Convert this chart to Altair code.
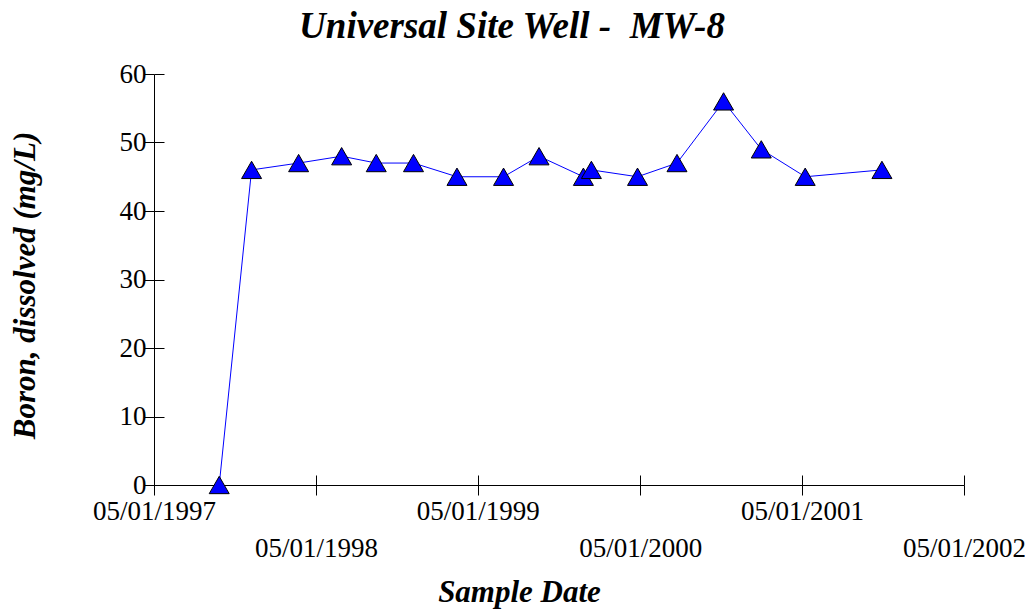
import altair as alt
import pandas as pd

dates = [
    "1997/09/25", "1997/12/07", "1998/03/23", "1998/06/28", "1998/09/14",
    "1998/12/07", "1999/03/15", "1999/06/28", "1999/09/16", "1999/12/25",
    "2000/01/12", "2000/04/25", "2000/07/23", "2000/11/05", "2001/01/29",
    "2001/05/08", "2001/10/28",
]
values = [0, 46, 47, 48, 47, 47, 45, 45, 48, 45, 46, 45, 47, 56, 49, 45, 46]
tick_years = [1997, 1998, 1999, 2000, 2001, 2002]
y_ticks = [0, 10, 20, 30, 40, 50, 60]

df = pd.DataFrame({"date": dates, "value": values})

FONT = "Liberation Serif"
tick_dates = [alt.DateTime(year=y, month=5, date=1) for y in tick_years]

xscale = alt.Scale(domain=[tick_dates[0], tick_dates[-1]], nice=False)
yscale = alt.Scale(domain=[0, 60], nice=False, zero=True)

x_axis_main = alt.Axis(
    orient="bottom", values=tick_dates, format="%m/%d/%Y",
    labelExpr="year(datum.value) % 2 == 0 ? ['', datum.label] : datum.label",
    labelLineHeight=37, labelFont=FONT, labelFontSize=27, labelColor="black",
    labelFlush=False, labelOverlap=False, labelPadding=3,
    tickSize=10, tickColor="black", tickWidth=1,
    domainColor="black", domainWidth=1, grid=False,
    title="Sample Date", titleFont=FONT, titleFontSize=31, titleFontStyle="italic",
    titleFontWeight="bold", titleColor="black", titleX=365, titleY=107,
    titleBaseline="middle", titleAlign="center",
)
x_axis_ticks = alt.Axis(
    orient="bottom", values=tick_dates, labels=False, domain=False, grid=False,
    tickSize=10, tickColor="black", tickWidth=1, offset=-10, title=None,
)
y_axis_main = alt.Axis(
    orient="left", values=y_ticks, labelFont=FONT, labelFontSize=27, labelColor="black",
    labelPadding=-2, labelFlush=False, labelOverlap=False, labelBaseline="middle",
    tickSize=10, tickColor="black", tickWidth=1,
    domainColor="black", domainWidth=1, grid=False,
    title="Boron, dissolved (mg/L)", titleFont=FONT, titleFontSize=31,
    titleFontStyle="italic", titleFontWeight="bold", titleColor="black",
    titleX=-129, titleY=211, titleAngle=270, titleBaseline="middle", titleAlign="center",
)
y_axis_ticks = alt.Axis(
    orient="left", values=y_ticks, labels=False, domain=False, grid=False,
    tickSize=10, tickColor="black", tickWidth=1, offset=-10, title=None,
)

base = alt.Chart(df)
line = base.mark_line(color="#0000FF", strokeWidth=1).encode(
    x=alt.X("date:T", scale=xscale, axis=x_axis_main),
    y=alt.Y("value:Q", scale=yscale, axis=y_axis_main),
)
points = base.mark_point(
    shape="triangle-up", filled=True, fill="#0000FF", stroke="black",
    strokeWidth=1, size=400, opacity=1,
).encode(
    x=alt.X("date:T", scale=xscale, axis=x_axis_ticks),
    y=alt.Y("value:Q", scale=yscale, axis=y_axis_ticks),
)

chart = alt.layer(line, points).resolve_axis(x="independent", y="independent").properties(
    width=810, height=411,
    title=alt.TitleParams(
        "Universal Site Well - \u00a0MW-8", font=FONT, fontSize=37, fontStyle="italic",
        fontWeight="bold", color="black", anchor="middle", frame="group", dx=-47, dy=-10,
    ),
    autosize=alt.AutoSizeParams(type="none"),
    padding={"left": 146, "top": 66, "right": 61, "bottom": 126},
    background="white",
).configure_view(stroke=None)

chart.save("out.html", embed_options={"renderer": "svg", "actions": False})
